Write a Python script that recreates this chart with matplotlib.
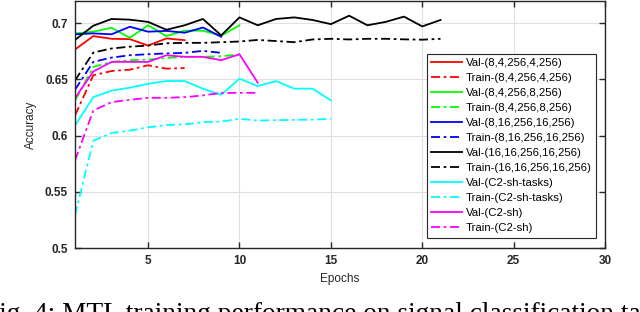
import matplotlib
matplotlib.use("Agg")
import matplotlib.pyplot as plt

plt.rcParams['font.family'] = ['Liberation Sans', 'DejaVu Sans']

val_8_4_4 = [0.6765, 0.6884, 0.686, 0.6857, 0.680, 0.6863, 0.6848]
train_8_4_4 = [0.618, 0.6536, 0.6574, 0.6586, 0.6625, 0.6595, 0.660]
val_8_4_8 = [0.6908, 0.6923, 0.6958, 0.6869, 0.698, 0.6884, 0.6932, 0.6932, 0.6887, 0.698]
train_8_4_8 = [0.631, 0.661, 0.6655, 0.667, 0.6676, 0.669, 0.670, 0.670, 0.6705, 0.672]
val_8_16 = [0.690, 0.6908, 0.690, 0.6967, 0.6923, 0.693, 0.6914, 0.696, 0.6878]
train_8_16 = [0.6408, 0.6655, 0.6693, 0.6714, 0.6723, 0.673, 0.6735, 0.6753, 0.6735]
val_16_16 = [0.685, 0.6976, 0.7036, 0.703, 0.701, 0.694, 0.698, 0.7036, 0.689, 0.705, 0.698,
             0.7036, 0.705, 0.7027, 0.699, 0.7065, 0.698, 0.701, 0.7057, 0.697, 0.7027]
train_16_16 = [0.649, 0.6738, 0.6774, 0.679, 0.680, 0.682, 0.6824, 0.6824, 0.683, 0.6836, 0.685,
               0.684, 0.683, 0.6854, 0.686, 0.6854, 0.686, 0.686, 0.6855, 0.6852, 0.686]
val_c2_tasks = [0.609, 0.6342, 0.640, 0.6426, 0.646, 0.6485, 0.6485, 0.6417, 0.6363, 0.6506, 0.644,
                0.6485, 0.6417, 0.6417, 0.6313]
train_c2_tasks = [0.5293, 0.5955, 0.6024, 0.6045, 0.6074, 0.6095, 0.610, 0.612, 0.6125, 0.615, 0.6134,
                  0.6138, 0.614, 0.6142, 0.615]
val_c2_sh = [0.6333, 0.657, 0.6655, 0.6655, 0.6655, 0.6714, 0.670, 0.670, 0.667, 0.6723, 0.647]
train_c2_sh = [0.578, 0.6223, 0.6298, 0.6318, 0.6336, 0.6336, 0.6342, 0.6357, 0.638, 0.638, 0.638]

series = [
    ("Val-(8,4,256,4,256)", val_8_4_4, 'red', '-'),
    ("Train-(8,4,256,4,256)", train_8_4_4, 'red', '-.'),
    ("Val-(8,4,256,8,256)", val_8_4_8, 'lime', '-'),
    ("Train-(8,4,256,8,256)", train_8_4_8, 'lime', '-.'),
    ("Val-(8,16,256,16,256)", val_8_16, 'blue', '-'),
    ("Train-(8,16,256,16,256)", train_8_16, 'blue', '-.'),
    ("Val-(16,16,256,16,256)", val_16_16, 'black', '-'),
    ("Train-(16,16,256,16,256)", train_16_16, 'black', '-.'),
    ("Val-(C2-sh-tasks)", val_c2_tasks, 'cyan', '-'),
    ("Train-(C2-sh-tasks)", train_c2_tasks, 'cyan', '-.'),
    ("Val-(C2-sh)", val_c2_sh, 'magenta', '-'),
    ("Train-(C2-sh)", train_c2_sh, 'magenta', '-.'),
]

fig = plt.figure(figsize=(6.4, 3.12), dpi=100)
ax = fig.add_axes([75/640, 1-248.3/312, 530/640, 247.8/312])

for label, vals, color, ls in series:
    ep = list(range(1, len(vals)+1))
    if ls == '-.':
        ax.plot(ep, vals, color=color, lw=1.3, dashes=(5, 2, 1.5, 2), label=label)
    else:
        ax.plot(ep, vals, color=color, lw=1.3, ls='-', label=label)

ax.set_xlim(1, 30)
ax.set_ylim(0.5, 0.72)
ax.set_xticks([5, 10, 15, 20, 25, 30])
ax.set_yticks([0.5, 0.55, 0.6, 0.65, 0.7])
ax.set_yticklabels(['0.5', '0.55', '0.6', '0.65', '0.7'])
ax.grid(True, color='#e0e0e0', lw=0.8)
ax.set_axisbelow(True)
ax.tick_params(direction='in', top=True, right=True, length=4, width=1, colors='#262626',
               labelsize=8.5, pad=5)
for lab in ax.get_xticklabels() + ax.get_yticklabels():
    lab.set_fontweight('bold')
    lab.set_color('#262626')
for sp in ax.spines.values():
    sp.set_color('#262626')
    sp.set_linewidth(1.0)

ax.set_xlabel('Epochs', fontsize=8.5, color='#262626', labelpad=4)
ax.set_ylabel('Accuracy', fontsize=8.5, color='#262626', labelpad=6)

leg = ax.legend(loc='lower right', bbox_to_anchor=(521/530, 10.3/247.8), fontsize=8.2,
                handlelength=2.7, handletextpad=0.3, labelspacing=0.44, borderpad=0.4,
                borderaxespad=0, fancybox=False, framealpha=1, edgecolor='#262626')
leg.get_frame().set_linewidth(0.8)

fig.text(-16/640, (312-321)/312, 'Fig. 4: MTL training performance on signal classification tasks',
         fontsize=19.7, family=['Liberation Serif', 'DejaVu Serif'], va='baseline', ha='left')

fig.savefig('out.png', dpi=100)
